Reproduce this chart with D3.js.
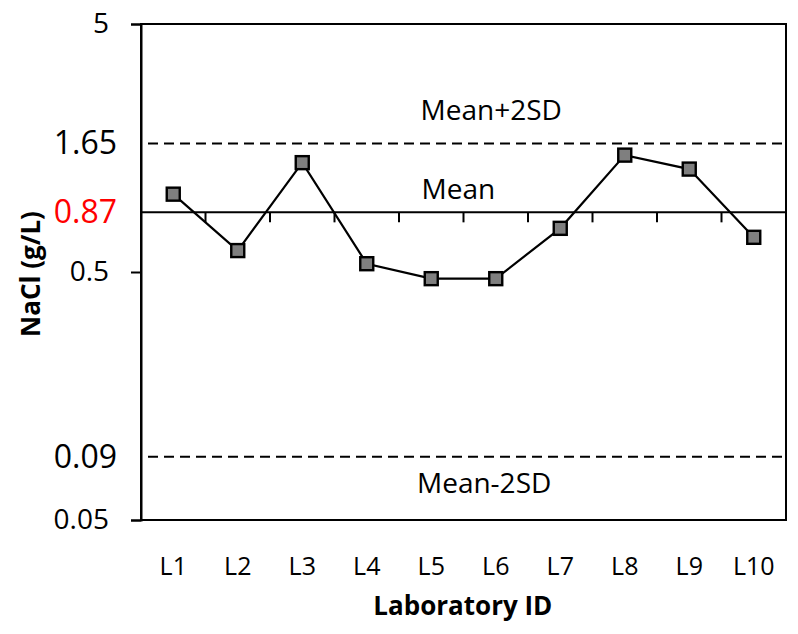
<!DOCTYPE html>
<html>
<head>
<meta charset="utf-8">
<script src="https://cdn.jsdelivr.net/npm/d3@7"></script>
<style>
  body { margin: 0; background: #fff; }
  svg { display: block; font-family: "Open Sans", sans-serif; }
</style>
</head>
<body>
<svg id="chart" width="798" height="634"></svg>
<script>
// data
const labs = ["L1", "L2", "L3", "L4", "L5", "L6", "L7", "L8", "L9", "L10"];
const nacl = [1.03, 0.61, 1.38, 0.54, 0.47, 0.47, 0.75, 1.48, 1.30, 0.69];
const yTicks = [5, 0.5, 0.05];
const meanValue = 0.87;
const upperValue = 1.65;
const lowerValue = 0.09;

let svg = d3.select("#chart"),
    margin = {top: 24, right: 12, bottom: 114, left: 141},
    width = +svg.attr("width") - margin.left - margin.right,
    height = +svg.attr("height") - margin.top - margin.bottom;

let g = svg.append("g")
    .attr("transform", "translate(" + margin.left + "," + margin.top + ")");

let x = d3.scaleBand().domain(labs).range([0, width]).padding(0),
    y = d3.scaleLog().domain([0.05, 5]).range([height, 0]);

// plot box
g.append("rect")
    .attr("width", width)
    .attr("height", height)
    .attr("fill", "none")
    .attr("stroke", "#000")
    .attr("stroke-width", 2);

// y axis (log)
let yAxis = g.append("g")
    .call(d3.axisLeft(y).tickValues(yTicks).tickFormat(d3.format("")).tickSize(10).tickPadding(22));
yAxis.select(".domain").attr("stroke-width", 2);
yAxis.selectAll(".tick line").attr("stroke-width", 2);
yAxis.selectAll("text").attr("font-size", 28).attr("font-family", "Open Sans").attr("fill", "#000");

// extra labels for mean and limits
const extraLabels = [
    {v: upperValue, color: "#000"},
    {v: meanValue, color: "#ff0000"},
    {v: lowerValue, color: "#000"}
];
g.selectAll(".extra")
    .data(extraLabels)
    .enter().append("text")
    .attr("class", "extra")
    .attr("x", -24)
    .attr("y", d => y(d.v))
    .attr("dy", "0.34em")
    .attr("text-anchor", "end")
    .attr("font-size", 32)
    .attr("fill", d => d.color)
    .text(d => d.v);

// dashed limit lines
g.selectAll(".limit")
    .data([upperValue, lowerValue])
    .enter().append("line")
    .attr("class", "limit")
    .attr("x1", 7)
    .attr("x2", width)
    .attr("y1", d => y(d))
    .attr("y2", d => y(d))
    .attr("stroke", "#000")
    .attr("stroke-width", 2)
    .attr("stroke-dasharray", "10,6");

// x axis line crossing at the mean, with ticks between categories
let ym = y(meanValue);
g.append("line")
    .attr("x1", 0).attr("x2", width)
    .attr("y1", ym).attr("y2", ym)
    .attr("stroke", "#000")
    .attr("stroke-width", 2);
g.selectAll(".xtick")
    .data(labs.slice(1))
    .enter().append("line")
    .attr("class", "xtick")
    .attr("x1", d => x(d)).attr("x2", d => x(d))
    .attr("y1", ym).attr("y2", ym + 10)
    .attr("stroke", "#000")
    .attr("stroke-width", 2);

// category labels at the bottom
let xAxis = g.append("g")
    .attr("transform", "translate(0," + height + ")")
    .call(d3.axisBottom(x).tickSize(0).tickPadding(37));
xAxis.select(".domain").remove();
xAxis.selectAll("text").attr("font-size", 25).attr("font-family", "Open Sans").attr("fill", "#000");

// annotations
g.append("text")
    .attr("x", width * 0.543).attr("y", y(upperValue) - 23)
    .attr("text-anchor", "middle").attr("font-size", 28)
    .text("Mean+2SD");
g.append("text")
    .attr("x", width * 0.492).attr("y", y(meanValue) - 13)
    .attr("text-anchor", "middle").attr("font-size", 28)
    .text("Mean");
g.append("text")
    .attr("x", width * 0.532).attr("y", y(lowerValue) + 36)
    .attr("text-anchor", "middle").attr("font-size", 28)
    .text("Mean-2SD");

// series line
let valueline = d3.line()
    .x((d, i) => x(labs[i]) + x.bandwidth() / 2)
    .y(d => y(d));

g.append("path")
    .datum(nacl)
    .attr("fill", "none")
    .attr("stroke", "#000")
    .attr("stroke-width", 2.2)
    .attr("d", valueline);

let ms = 13;
g.selectAll(".marker")
    .data(nacl)
    .enter().append("rect")
    .attr("class", "marker")
    .attr("x", (d, i) => x(labs[i]) + x.bandwidth() / 2 - ms / 2)
    .attr("y", d => y(d) - ms / 2)
    .attr("width", ms)
    .attr("height", ms)
    .attr("fill", "#7f7f7f")
    .attr("stroke", "#000")
    .attr("stroke-width", 2.4);

// axis titles
svg.append("text")
    .attr("transform", "translate(40," + 274 + ") rotate(-90)")
    .attr("text-anchor", "middle")
    .attr("font-size", 26)
    .attr("font-weight", "bold")
    .text("NaCl (g/L)");

svg.append("text")
    .attr("x", margin.left + width * 0.499)
    .attr("y", 615)
    .attr("text-anchor", "middle")
    .attr("font-size", 26)
    .attr("font-weight", "bold")
    .text("Laboratory ID");
</script>
</body>
</html>
